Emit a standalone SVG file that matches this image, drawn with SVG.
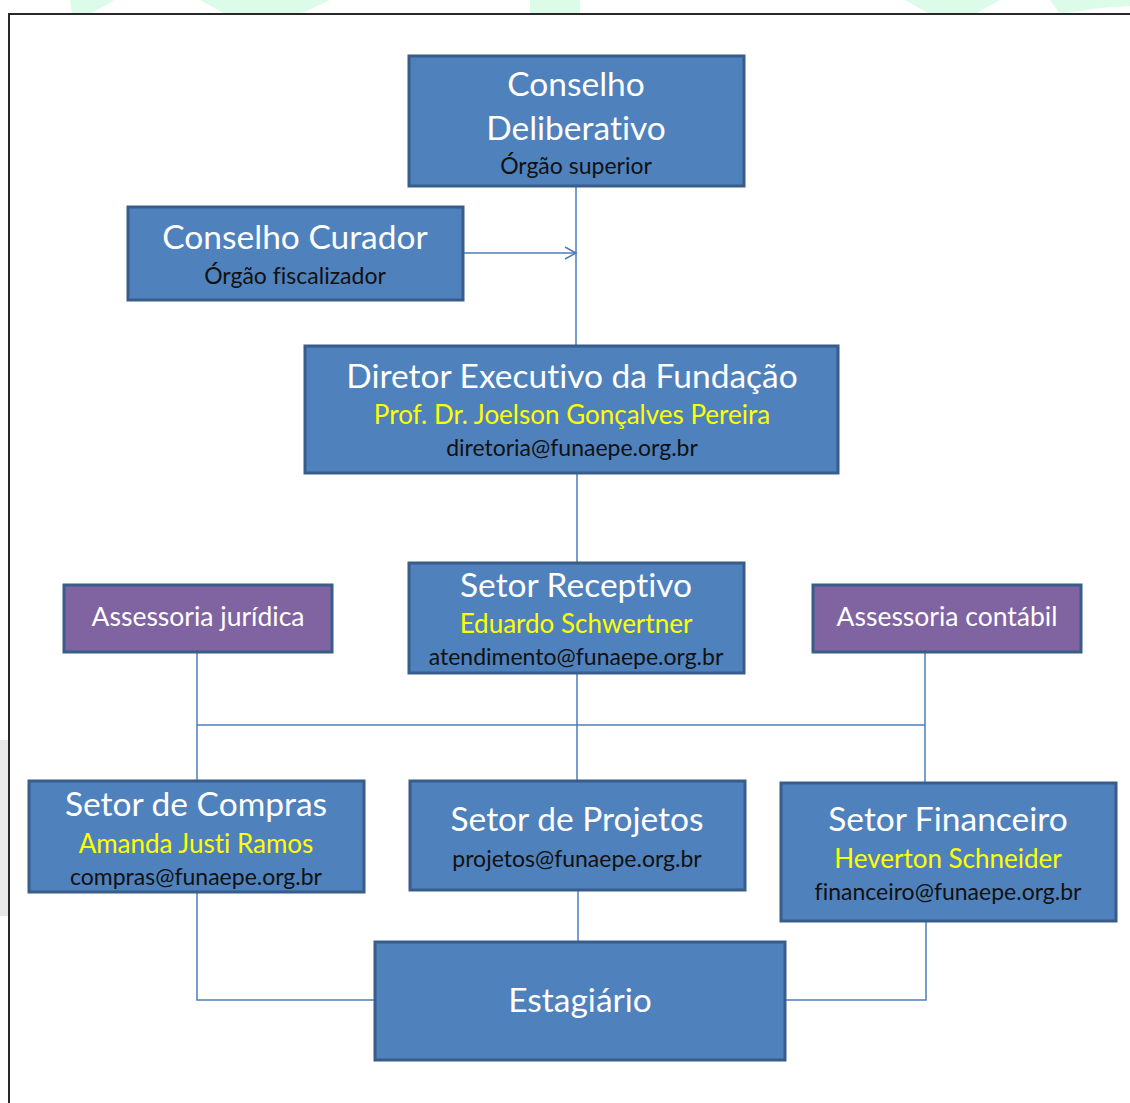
<svg xmlns="http://www.w3.org/2000/svg" width="1130" height="1103" viewBox="0 0 1130 1103">
<style>
.box{fill:#4F81BD;stroke:#385D8A;stroke-width:3}
.pbox{fill:#8064A2;stroke:#385D8A;stroke-width:3}
text{font-family:Lato,"Open Sans",sans-serif;text-anchor:middle;font-variant-ligatures:none}
.t{fill:#fff;font-size:33.5px}
.y{fill:#FFFF00;font-size:26px}
.k{fill:#111;font-size:23px}
.p{fill:#fff;font-size:26.5px}
.c{fill:none;stroke:#4A7EBB;stroke-width:1.5}
</style>
<defs>
<marker id="arr" markerWidth="14" markerHeight="14" refX="12" refY="7" orient="auto" markerUnits="userSpaceOnUse">
<path d="M1,1 L12,7 L1,13" fill="none" stroke="#4A7EBB" stroke-width="1.5"/>
</marker>
</defs>
<rect width="1130" height="1103" fill="#fff"/>
<g id="background" opacity="0.9">
<polygon points="70,0 115,0 90,14 72,14" fill="#d9fbe6"/>
<polygon points="200,0 330,0 300,14 225,14" fill="#d9fbe6"/>
<rect x="530" y="0" width="50" height="14" fill="#d9fbe6"/>
<polygon points="905,0 1000,0 975,14 930,14" fill="#d9fbe6"/>
<polygon points="1050,0 1130,0 1130,6 1100,8 1060,14" fill="#d9fbe6"/>
<rect x="0" y="740" width="8" height="176" fill="#e6e6e6"/>
<path d="M9,1103 V14 H1130" fill="none" stroke="#111" stroke-width="2"/>
</g>
<g id="connectors">
<line class="c" x1="576" y1="186" x2="576" y2="346"/>
<line class="c" x1="463" y1="253" x2="576" y2="253" marker-end="url(#arr)"/>
<line class="c" x1="577" y1="473" x2="577" y2="563"/>
<line class="c" x1="577" y1="673" x2="577" y2="781"/>
<line class="c" x1="197" y1="652" x2="197" y2="781"/>
<line class="c" x1="925" y1="652" x2="925" y2="783"/>
<line class="c" x1="197" y1="725" x2="925" y2="725"/>
<polyline class="c" points="197,892 197,1000 375,1000"/>
<line class="c" x1="578" y1="890" x2="578" y2="942"/>
<polyline class="c" points="926,921 926,1000 785,1000"/>
</g>
<g id="conselho-deliberativo">
<rect class="box" x="409" y="56" width="335" height="130"/>
<text class="t" x="576" y="96">Conselho</text>
<text class="t" x="576" y="140">Deliberativo</text>
<text class="k" x="576" y="174">Órgão superior</text>
</g>
<g id="conselho-curador">
<rect class="box" x="128" y="207" width="335" height="93"/>
<text class="t" x="295" y="249">Conselho Curador</text>
<text class="k" x="295" y="284">Órgão fiscalizador</text>
</g>
<g id="diretor">
<rect class="box" x="305" y="346" width="533" height="127"/>
<text class="t" x="572" y="388">Diretor Executivo da Fundação</text>
<text class="y" x="572" y="424">Prof. Dr. Joelson Gonçalves Pereira</text>
<text class="k" x="572" y="456">diretoria@funaepe.org.br</text>
</g>
<g id="setor-receptivo">
<rect class="box" x="409" y="563" width="335" height="110"/>
<text class="t" x="576" y="597">Setor Receptivo</text>
<text class="y" x="576" y="633">Eduardo Schwertner</text>
<text class="k" x="576" y="665">atendimento@funaepe.org.br</text>
</g>
<g id="assessoria-juridica">
<rect class="pbox" x="64" y="585" width="268" height="67"/>
<text class="p" x="198" y="626">Assessoria jurídica</text>
</g>
<g id="assessoria-contabil">
<rect class="pbox" x="813" y="585" width="268" height="67"/>
<text class="p" x="947" y="626">Assessoria contábil</text>
</g>
<g id="setor-compras">
<rect class="box" x="29" y="781" width="335" height="111"/>
<text class="t" x="196" y="816">Setor de Compras</text>
<text class="y" x="196" y="853">Amanda Justi Ramos</text>
<text class="k" x="196" y="885">compras@funaepe.org.br</text>
</g>
<g id="setor-projetos">
<rect class="box" x="410" y="781" width="335" height="109"/>
<text class="t" x="577" y="831">Setor de Projetos</text>
<text class="k" x="577" y="867">projetos@funaepe.org.br</text>
</g>
<g id="setor-financeiro">
<rect class="box" x="781" y="783" width="335" height="138"/>
<text class="t" x="948" y="831">Setor Financeiro</text>
<text class="y" x="948" y="868">Heverton Schneider</text>
<text class="k" x="948" y="900">financeiro@funaepe.org.br</text>
</g>
<g id="estagiario">
<rect class="box" x="375" y="942" width="410" height="118"/>
<text class="t" x="580" y="1012">Estagiário</text>
</g>
</svg>
